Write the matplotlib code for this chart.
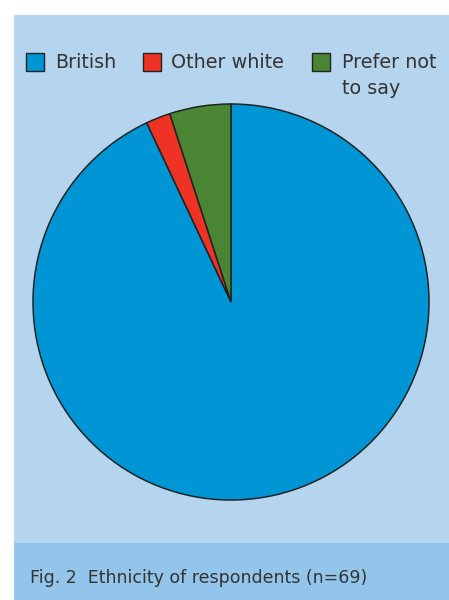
import matplotlib.pyplot as plt
from matplotlib.patches import Rectangle

labels = ["British", "Other white", "Prefer not\nto say"]
shares = [93, 2, 5]
colors = ["#0096d6", "#ee3224", "#4a8534"]
caption = "Fig. 2  Ethnicity of respondents (n=69)"

W, H = 449, 600
fig = plt.figure(figsize=(W / 100, H / 100), dpi=100)
fig.patch.set_facecolor("white")

def fx(px):
    return px / W

def fy(py):
    return 1 - py / H

# panel and caption band, kept behind the pie
fig.patches.append(Rectangle((fx(14), 0), fx(435), fy(15), transform=fig.transFigure,
                             facecolor="#b5d5ee", edgecolor="none", zorder=-3))
fig.patches.append(Rectangle((fx(14), 0), fx(435), fy(543), transform=fig.transFigure,
                             facecolor="#93c5ea", edgecolor="none", zorder=-2))

# pie
cx, cy, r = 231, 302, 199
ax = fig.add_axes([fx(cx - r), fy(cy + r), fx(2 * r), 2 * r / H])
ax.set_zorder(2)
ax.pie(shares, colors=colors, startangle=90, counterclock=False,
       wedgeprops=dict(edgecolor="#222222", linewidth=1.1))
ax.set_xlim(-1.005, 1.005)
ax.set_ylim(-1.005, 1.005)
ax.set_aspect("equal")
ax.axis("off")

# legend
box_x = [26, 143, 312]
text_x = [55, 171, 342]
for lab, col, bx, tx in zip(labels, colors, box_x, text_x):
    fig.patches.append(Rectangle((fx(bx), fy(71)), fx(18), 18 / H, transform=fig.transFigure,
                                 facecolor=col, edgecolor="#222222", linewidth=1.0, zorder=2))
    fig.text(fx(tx), fy(53), lab, fontsize=13.8, color="#333333", va="top", ha="left",
             linespacing=1.45, family="DejaVu Sans")

fig.text(fx(30), fy(583), caption, fontsize=12.5, color="#333333", va="baseline",
         ha="left", family="DejaVu Sans")

fig.savefig("out.png", dpi=100)
